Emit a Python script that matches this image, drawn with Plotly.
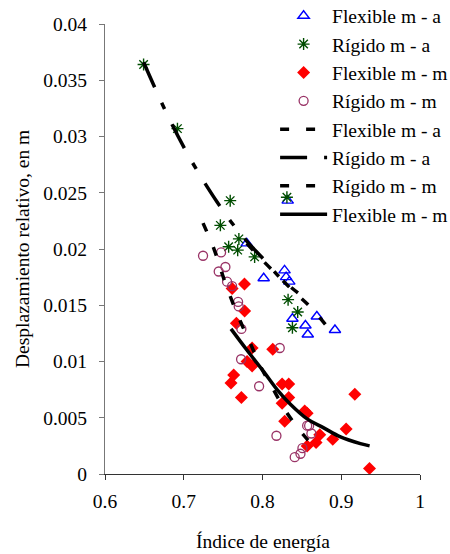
import plotly.graph_objects as go

# ---- data ----
flex_ma_x = [0.780, 0.8015, 0.828, 0.830, 0.834, 0.832, 0.869, 0.838, 0.8545, 0.8575, 0.892]
flex_ma_y = [0.0205, 0.0174, 0.0181, 0.0175, 0.0171, 0.0243, 0.0140, 0.0138, 0.0132, 0.0124, 0.0128]

rig_ma_x = [0.649, 0.692, 0.759, 0.7465, 0.770, 0.757, 0.7685, 0.790, 0.831, 0.8325, 0.8447, 0.838]
rig_ma_y = [0.0364, 0.0307, 0.0243, 0.0221, 0.0209, 0.0202, 0.0199, 0.0193, 0.0246, 0.0155, 0.0144, 0.0130]

flex_mm_x = [0.7771, 0.7614, 0.7773, 0.7668, 0.7868, 0.813, 0.7804, 0.7868, 0.7634, 0.760,
             0.7732, 0.8249, 0.8333, 0.8333, 0.8249, 0.8282, 0.8536, 0.8567, 0.9172, 0.9062,
             0.8727, 0.868, 0.8892, 0.8567, 0.9359]
flex_mm_y = [0.0169, 0.0165, 0.0145, 0.0134, 0.0112, 0.0111, 0.0100, 0.0096, 0.0088, 0.0081,
             0.0068, 0.0080, 0.0080, 0.0068, 0.0063, 0.0047, 0.0056, 0.0054, 0.0071, 0.0040,
             0.0035, 0.0028, 0.0031, 0.0025, 0.0005]

rig_mm_x = [0.7245, 0.7474, 0.7529, 0.7444, 0.755, 0.7614, 0.769, 0.7698, 0.7732, 0.8219,
            0.7728, 0.7957, 0.8177, 0.8567, 0.8592, 0.8621, 0.8507, 0.8482, 0.8409]
rig_mm_y = [0.0194, 0.0197, 0.0184, 0.0180, 0.0171, 0.0167, 0.0153, 0.0149, 0.0129, 0.0112,
            0.0102, 0.0078, 0.0034, 0.0043, 0.0043, 0.0036, 0.0023, 0.0018, 0.0015]

# trend lines
tl_flex_ma_x = [0.780, 0.800, 0.820, 0.840, 0.860, 0.889]
tl_flex_ma_y = [0.0205, 0.0190, 0.0176, 0.0162, 0.0149, 0.0125]

tl_rig_ma_x = [0.649, 0.680, 0.706, 0.730, 0.756, 0.780, 0.800, 0.823, 0.845]
tl_rig_ma_y = [0.0366, 0.0318, 0.0283, 0.0255, 0.0228, 0.0207, 0.0192, 0.0174, 0.0161]

tl_rig_mm_x = [0.7245, 0.7389, 0.7478, 0.759, 0.7717, 0.7846, 0.7973, 0.8139, 0.8313, 0.8529, 0.862]
tl_rig_mm_y = [0.0223, 0.0199, 0.0180, 0.0158, 0.0136, 0.0116, 0.0096, 0.0075, 0.0054, 0.0034, 0.0027]

tl_flex_mm_x = [0.760, 0.7804, 0.8015, 0.8185, 0.8354, 0.8567, 0.8777, 0.899, 0.9243, 0.936]
tl_flex_mm_y = [0.0129, 0.0110, 0.0091, 0.0075, 0.0062, 0.0049, 0.0041, 0.0033, 0.0027, 0.0025]

x_ticks = [0.6, 0.7, 0.8, 0.9, 1.0]
x_tick_text = ["0.6", "0.7", "0.8", "0.9", "1"]
y_ticks = [0, 0.005, 0.01, 0.015, 0.02, 0.025, 0.03, 0.035, 0.04]
y_tick_text = ["0", "0.005", "0.01", "0.015", "0.02", "0.025", "0.03", "0.035", "0.04"]

FONT = "Liberation Serif, Times New Roman, serif"

fig = go.Figure()
fig.add_trace(go.Scatter(x=flex_ma_x, y=flex_ma_y, mode="markers", name="Flexible m - a",
                         marker=dict(symbol="triangle-up-open", size=10, color="#0000FF",
                                     line=dict(width=1.4, color="#0000FF"))))
fig.add_trace(go.Scatter(x=rig_ma_x, y=rig_ma_y, mode="markers", name="Rígido m - a",
                         marker=dict(symbol="asterisk-open", size=10, color="#004D00",
                                     line=dict(width=1.4, color="#004D00"))))
fig.add_trace(go.Scatter(x=flex_mm_x, y=flex_mm_y, mode="markers", name="Flexible m - m",
                         marker=dict(symbol="diamond", size=10, color="#FF0000",
                                     line=dict(width=0))))
fig.add_trace(go.Scatter(x=rig_mm_x, y=rig_mm_y, mode="markers", name="Rígido m - m",
                         marker=dict(symbol="circle-open", size=9, color="#993366",
                                     line=dict(width=1.3, color="#993366"))))

fig.add_trace(go.Scatter(x=tl_flex_ma_x, y=tl_flex_ma_y, mode="lines", name="Flexible m - a",
                         line=dict(color="black", width=3.5, dash="9px,17px", shape="spline")))
fig.add_trace(go.Scatter(x=tl_rig_ma_x, y=tl_rig_ma_y, mode="lines", name="Rígido m - a",
                         line=dict(color="black", width=3.5, dash="27px,17px,7px,17px", shape="spline")))
fig.add_trace(go.Scatter(x=tl_rig_mm_x, y=tl_rig_mm_y, mode="lines", name="Rígido m - m",
                         line=dict(color="black", width=3.5, dash="9px,17px", shape="spline")))
fig.add_trace(go.Scatter(x=tl_flex_mm_x, y=tl_flex_mm_y, mode="lines", name="Flexible m - m",
                         line=dict(color="black", width=3.5, shape="spline")))

fig.update_layout(
    width=450, height=554,
    margin=dict(l=105, r=30, t=24, b=80, autoexpand=False),
    paper_bgcolor="white", plot_bgcolor="white",
    font=dict(family=FONT, size=19.5, color="black"),
    showlegend=True,
    legend=dict(x=0.54, y=1.061, xanchor="left", yanchor="top",
                bgcolor="rgba(0,0,0,0)", borderwidth=0, itemwidth=47,
                font=dict(family=FONT, size=19.5, color="black")),
    xaxis=dict(range=[0.6, 1.0], tickvals=x_ticks, ticktext=x_tick_text,
               showline=True, linecolor="#333333", linewidth=1,
               ticks="outside", ticklen=5, tickcolor="#333333", automargin=False,
               showgrid=False, zeroline=False, ticklabelstandoff=5),
    yaxis=dict(range=[0, 0.04], tickvals=y_ticks, ticktext=y_tick_text,
               showline=True, linecolor="#777777", linewidth=1,
               ticks="outside", ticklen=5, tickcolor="#777777", automargin=False,
               showgrid=False, zeroline=False, ticklabelstandoff=8),
    annotations=[
        dict(text="Índice de energía", xref="paper", yref="paper", x=0.5, y=-0.149,
             xanchor="center", yanchor="middle", showarrow=False,
             font=dict(family=FONT, size=19.5, color="black")),
        dict(text="Desplazamiento relativo, en m", xref="paper", yref="paper",
             x=-0.2635, y=0.5, xanchor="center", yanchor="middle", textangle=-90,
             showarrow=False, font=dict(family=FONT, size=19.5, color="black")),
    ],
)

# remove the browser's default 8px page margin so the figure sits at (0, 0)
fig.write_html("out.html",
               config={"displayModeBar": False},
               post_script="document.body.style.margin='0';document.body.style.overflow='hidden';")
